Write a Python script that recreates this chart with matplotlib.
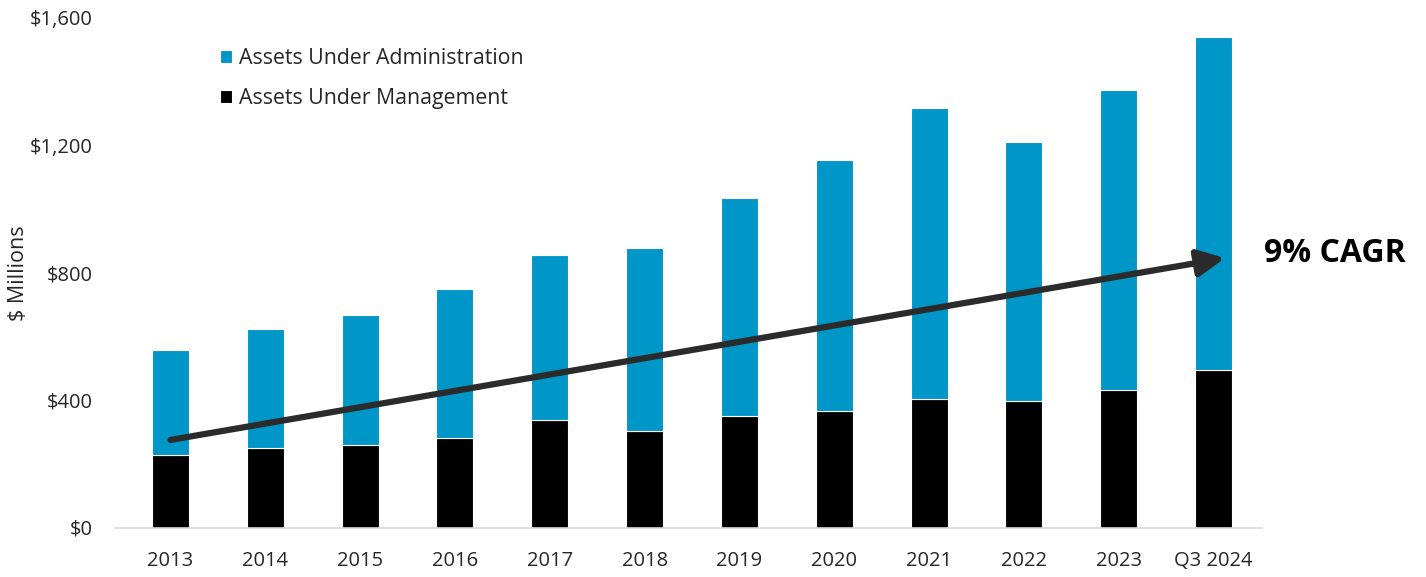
import matplotlib
matplotlib.use("Agg")
import matplotlib.pyplot as plt
from matplotlib.ticker import FuncFormatter
import numpy as np

# data ($ millions)
years = ["2013", "2014", "2015", "2016", "2017", "2018", "2019", "2020",
         "2021", "2022", "2023", "Q3 2024"]
aum = [228, 251, 259, 280, 338, 304, 350, 367, 403, 397, 432, 495]
total_assets = [558, 622, 667, 749, 857, 878, 1034, 1154, 1316, 1211, 1374, 1540]
aua = [t - m for t, m in zip(total_assets, aum)]

# trend arrow (x in category index, y in $ millions)
trend_start = (0.0, 275)
trend_end = (11.12, 846)
cagr_label = "9% CAGR"

BLUE = "#0096c8"
TEXT = "#262626"

plt.rcParams['font.family'] = ['Open Sans', 'DejaVu Sans']

fig = plt.figure(figsize=(14.26, 5.77), dpi=100)
ax = fig.add_axes([115/1426, 1 - 527.5/577, (1262 - 115)/1426, (527.5 - 18)/577])

x = np.arange(len(years))
w = 0.39
ax.bar(x, aum, w, color="black", edgecolor="white", linewidth=0.8,
       label="Assets Under Management", zorder=2)
ax.bar(x, aua, w, bottom=aum, color=BLUE, edgecolor="white", linewidth=0.8,
       label="Assets Under Administration", zorder=2)

ax.set_xlim(-0.585, 11.51)
ax.set_ylim(0, 1600)
ax.set_yticks([0, 400, 800, 1200, 1600])
ax.yaxis.set_major_formatter(FuncFormatter(lambda v, p: "${:,.0f}".format(v)))
ax.set_xticks(x)
ax.set_xticklabels(years)

for s in ["top", "right", "left"]:
    ax.spines[s].set_visible(False)
ax.spines["bottom"].set_color("#d9d9d9")
ax.spines["bottom"].set_linewidth(1.2)
ax.tick_params(axis="both", length=0, labelsize=14.5, colors=TEXT)
ax.tick_params(axis="y", pad=16)
ax.tick_params(axis="x", pad=17)
ax.set_ylabel("$ Millions", fontsize=15.5, color=TEXT)
ax.yaxis.set_label_coords(-0.075, 0.5)

# growth arrow
ax.annotate("", xy=trend_end, xytext=trend_start,
            arrowprops=dict(arrowstyle="-|>,head_length=0.65,head_width=0.32",
                            lw=4.5, color="#2b2b2b", mutation_scale=25,
                            shrinkA=0, shrinkB=0),
            zorder=3)
ax.text(11.53, 860, cagr_label, fontsize=23, fontweight="bold",
        color="black", va="center", ha="left", clip_on=False)

h, l = ax.get_legend_handles_labels()
leg = fig.legend(h[::-1], l[::-1], loc="upper left",
                 bbox_to_anchor=(220/1426, 1 - 48/577), frameon=False,
                 fontsize=15.3, handlelength=0.55, handleheight=0.55,
                 handletextpad=0.35, labelspacing=0.9, borderpad=0,
                 borderaxespad=0)
for t in leg.get_texts():
    t.set_color(TEXT)

fig.savefig("out.png", dpi=100)
